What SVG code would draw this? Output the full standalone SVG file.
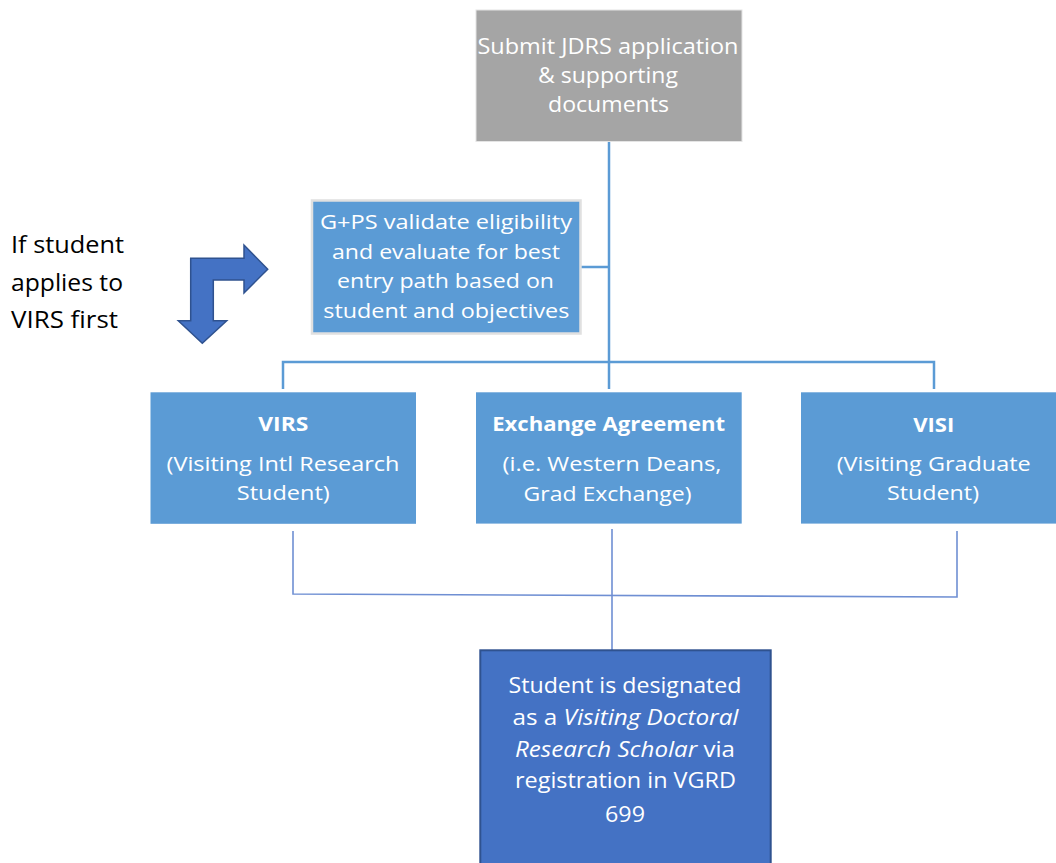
<svg xmlns="http://www.w3.org/2000/svg" width="1056" height="863" viewBox="0 0 1056 863">
<style>
.t{font-family:"Open Sans","Noto Sans","Liberation Sans",sans-serif;fill:#ffffff;text-anchor:middle}
.s20{font-size:20px}
.s22{font-size:22px}
.b{font-weight:bold}
.i{font-style:italic}
.lbl{font-family:"Open Sans","Noto Sans","Liberation Sans",sans-serif;font-size:23px;fill:#000000}
.lb{fill:#5b9bd5}
.c1{stroke:#5b9bd5;stroke-width:2.5;fill:none}
.c2{stroke:#6f8fd3;stroke-width:1.6;fill:none}
</style>
<rect width="1056" height="863" fill="#ffffff"/>
<g id="connectors">
<path class="c1" d="M609 141 V389"/>
<path class="c1" d="M581 267 H609"/>
<path class="c1" d="M283 389 V362 H934 V389"/>
<path class="c2" d="M293 531 V594 L957 597 V531"/>
<path class="c2" d="M612 529 V650"/>
</g>
<g id="submit">
<rect x="476" y="10" width="266" height="131.5" fill="#a5a5a5" stroke="#e4e4e4" stroke-width="1"/>
<text class="t s22" x="608" y="54.3" textLength="261" lengthAdjust="spacingAndGlyphs">Submit JDRS application</text>
<text class="t s22" x="608" y="83" textLength="140" lengthAdjust="spacingAndGlyphs">&amp; supporting</text>
<text class="t s22" x="608.5" y="111.7" textLength="121" lengthAdjust="spacingAndGlyphs">documents</text>
</g>
<g id="gps">
<rect x="312" y="200.5" width="268.5" height="133" class="lb" stroke="#e0e0e0" stroke-width="2.5"/>
<text class="t s20" x="446" y="229" textLength="252" lengthAdjust="spacingAndGlyphs">G+PS validate eligibility</text>
<text class="t s20" x="446" y="258.5" textLength="228" lengthAdjust="spacingAndGlyphs">and evaluate for best</text>
<text class="t s20" x="445.5" y="288" textLength="217" lengthAdjust="spacingAndGlyphs">entry path based on</text>
<text class="t s20" x="446.3" y="318" textLength="246" lengthAdjust="spacingAndGlyphs">student and objectives</text>
</g>
<g id="note">
<text class="lbl" x="11" y="253" textLength="113" lengthAdjust="spacingAndGlyphs">If student</text>
<text class="lbl" x="11" y="290.5" textLength="112" lengthAdjust="spacingAndGlyphs">applies to</text>
<text class="lbl" x="11" y="328" textLength="107" lengthAdjust="spacingAndGlyphs">VIRS first</text>
</g>
<g id="bent-arrow">
<path d="M190.7 320.7 H178.3 L202.3 343.3 L226.7 320.7 H213.3 V280 H244 V293 L267.7 269.3 L244 245 V258.3 H190.7 Z" fill="#4472c4" stroke="#2f528f" stroke-width="1.5" stroke-linejoin="miter"/>
</g>
<g id="virs">
<rect x="150.5" y="392.3" width="265.5" height="131.5" class="lb"/>
<text class="t s20 b" x="283.3" y="431" textLength="50" lengthAdjust="spacingAndGlyphs">VIRS</text>
<text class="t s20" x="283" y="470.5" textLength="233" lengthAdjust="spacingAndGlyphs">(Visiting Intl Research</text>
<text class="t s20" x="283.3" y="500" textLength="93" lengthAdjust="spacingAndGlyphs">Student)</text>
</g>
<g id="exchange">
<rect x="476" y="392.3" width="265.7" height="131.3" class="lb"/>
<text class="t s20 b" x="608.7" y="430.5" textLength="233" lengthAdjust="spacingAndGlyphs">Exchange Agreement</text>
<text class="t s20" x="612" y="471" textLength="219" lengthAdjust="spacingAndGlyphs">(i.e. Western Deans,</text>
<text class="t s20" x="607.5" y="500.5" textLength="168" lengthAdjust="spacingAndGlyphs">Grad Exchange)</text>
</g>
<g id="visi">
<rect x="801" y="392.3" width="266" height="131.3" class="lb"/>
<text class="t s20 b" x="933.7" y="431.5" textLength="41" lengthAdjust="spacingAndGlyphs">VISI</text>
<text class="t s20" x="933.7" y="471" textLength="194" lengthAdjust="spacingAndGlyphs">(Visiting Graduate</text>
<text class="t s20" x="933" y="500" textLength="92" lengthAdjust="spacingAndGlyphs">Student)</text>
</g>
<g id="designated">
<rect x="480.3" y="650.3" width="290.4" height="230" fill="#4472c4" stroke="#2f528f" stroke-width="2"/>
<text class="t s22" x="625" y="692.7" textLength="233" lengthAdjust="spacingAndGlyphs">Student is designated</text>
<text class="t s22" x="625.5" y="725" textLength="226" lengthAdjust="spacingAndGlyphs">as a <tspan class="i">Visiting Doctoral</tspan></text>
<text class="t s22" x="625" y="756.7" textLength="220" lengthAdjust="spacingAndGlyphs"><tspan class="i">Research Scholar</tspan> via</text>
<text class="t s22" x="625.5" y="788.3" textLength="221" lengthAdjust="spacingAndGlyphs">registration in VGRD</text>
<text class="t s22" x="625" y="821.7" textLength="40" lengthAdjust="spacingAndGlyphs">699</text>
</g>
</svg>
